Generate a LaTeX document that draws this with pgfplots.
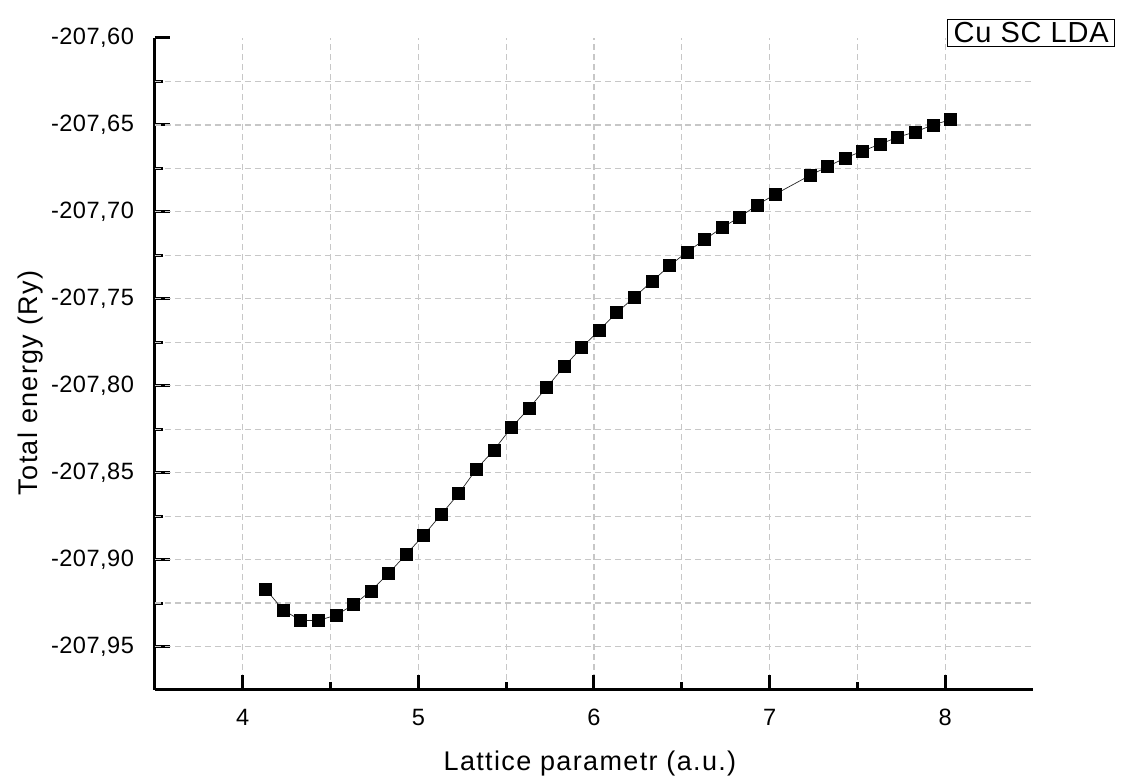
\documentclass[border=0pt]{standalone}
\usepackage{fontspec}
\setmainfont{Liberation Sans}
\newfontfamily\labelfont[LetterSpace=5]{Liberation Sans}
\newfontfamily\boxfont[LetterSpace=3]{Liberation Sans}
\newfontfamily\tickfont[LetterSpace=2]{Liberation Sans}
\usepackage{pgfplots}
\pgfplotsset{compat=1.18}
\begin{document}
\begin{tikzpicture}
\useasboundingbox (-77.5pt,-45.5pt) rectangle (485pt,345pt);
\begin{axis}[
  scale only axis,
  width=439pt, height=326pt,
  xmin=3.5, xmax=8.5,
  ymin=-207.975, ymax=-207.60,
  axis x line*=bottom, axis y line*=left,
  axis line style={line width=1.5pt},
  xtick={4,5,6,7,8},
  minor xtick={4.5,5.5,6.5,7.5},
  ytick={-207.95,-207.90,-207.85,-207.80,-207.75,-207.70,-207.65,-207.60},
  minor ytick={-207.925,-207.875,-207.825,-207.775,-207.725,-207.675,-207.625},
  tick align=inside,
  major tick length=7.5pt, minor tick length=4pt,
  every tick/.style={black, line width=1.5pt},
  /pgf/number format/assume math mode=true,
  yticklabel style={/pgf/number format/.cd, use comma, fixed, fixed zerofill, precision=2, /tikz/.cd, font=\tickfont\fontsize{11.8pt}{13pt}\selectfont, xshift=-7pt},
  xticklabel style={font=\tickfont\fontsize{11.8pt}{13pt}\selectfont, yshift=-6pt},
  xmajorgrids, xminorgrids,
  extra y ticks={-207.95,-207.925,-207.90,-207.875,-207.85,-207.825,-207.80,-207.775,-207.75,-207.725,-207.70,-207.675,-207.65,-207.625},
  extra y tick labels={},
  extra y tick style={grid=major, major tick length=0pt},
  grid style={color=black!22, line width=0.6pt, dash pattern=on 3pt off 2pt},
  minor grid style={color=black!22, line width=0.6pt, dash pattern=on 3pt off 2pt},
  xlabel={Lattice parametr (a.u.)},
  ylabel={Total energy (Ry)},
  xlabel style={at={(axis description cs:0.4954,-0.112)}, anchor=center, font=\labelfont\fontsize{13.5pt}{15pt}\selectfont},
  ylabel style={at={(axis description cs:-0.142,0.471)}, anchor=center, rotate=0, font=\labelfont\fontsize{13.5pt}{15pt}\selectfont},
  clip=false,
]
\addplot[black!85, line width=0.35pt, mark=square*, mark size=3pt, mark options={solid, fill=black, draw=black}] coordinates {
(4.13,-207.917) (4.23,-207.929) (4.33,-207.935) (4.43,-207.935) (4.53,-207.932)
(4.63,-207.926) (4.73,-207.918) (4.83,-207.908) (4.93,-207.897) (5.03,-207.886)
(5.13,-207.874) (5.23,-207.862) (5.33,-207.848) (5.43,-207.837) (5.53,-207.824)
(5.63,-207.813) (5.73,-207.801) (5.83,-207.789) (5.93,-207.778) (6.03,-207.768)
(6.13,-207.758) (6.23,-207.749) (6.33,-207.740) (6.43,-207.731) (6.53,-207.723)
(6.63,-207.716) (6.73,-207.709) (6.83,-207.703) (6.93,-207.696) (7.03,-207.690)
(7.23,-207.679) (7.33,-207.674) (7.43,-207.669) (7.53,-207.665) (7.63,-207.661)
(7.73,-207.657) (7.83,-207.654) (7.93,-207.650) (8.03,-207.647)
};
\node[draw=black, line width=0.6pt, inner xsep=3pt, inner ysep=1.5pt, font=\boxfont\fontsize{14.5pt}{16pt}\selectfont, anchor=center] at (rel axis cs:0.998,1.0077) {Cu SC LDA};
\end{axis}
\end{tikzpicture}
\end{document}
